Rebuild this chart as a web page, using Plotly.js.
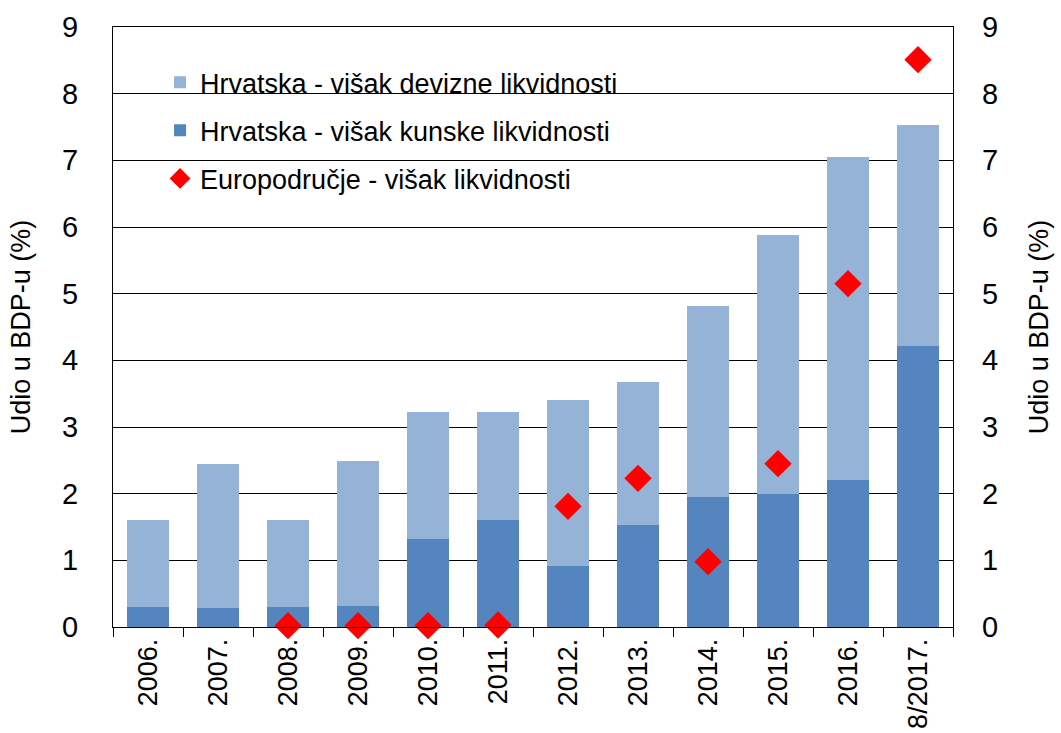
<!DOCTYPE html>
<html>
<head>
<meta charset="utf-8">
<script src="https://cdn.plot.ly/plotly-3.0.1.min.js"></script>
<style>html,body{margin:0;padding:0;background:#fff;}#chart{width:1061px;height:733px;}</style>
</head>
<body>
<div id="chart"></div>
<script>
const categories = ["2006.", "2007.", "2008.", "2009.", "2010.", "2011.", "2012.", "2013.", "2014.", "2015.", "2016.", "8/2017."];
const kunskeLikvidnost = [0.30, 0.28, 0.30, 0.32, 1.32, 1.61, 0.92, 1.53, 1.95, 2.00, 2.20, 4.22];
const ukupnoHrvatska = [1.61, 2.45, 1.61, 2.49, 3.22, 3.22, 3.41, 3.68, 4.82, 5.88, 7.05, 7.53];
const devizneLikvidnost = ukupnoHrvatska.map((t, i) => +(t - kunskeLikvidnost[i]).toFixed(2));
const europodrucje = [null, null, 0.02, 0.02, 0.02, 0.03, 1.81, 2.23, 0.98, 2.45, 5.15, 8.51];

const FAM = "Liberation Sans, Arial, sans-serif";
const xFont = {family: FAM, size: 27, color: "#000"};
const yFont = {family: FAM, size: 29, color: "#000"};
const titleFont = {family: FAM, size: 27, color: "#000"};

const traces = [
  {type: "bar", name: "Hrvatska - višak kunske likvidnosti", x: categories, y: kunskeLikvidnost,
   marker: {color: "#5585BE"}, legendrank: 2, legendgroup: "b", hoverinfo: "y"},
  {type: "bar", name: "Hrvatska - višak devizne likvidnosti", x: categories, y: devizneLikvidnost,
   marker: {color: "#95B3D7"}, legendrank: 1, legendgroup: "a", hoverinfo: "y"},
  {type: "scatter", mode: "markers", name: "Europodručje - višak likvidnosti", x: categories, y: europodrucje,
   yaxis: "y2", marker: {symbol: "diamond", color: "#FF0000", size: 21}, cliponaxis: false,
   legendrank: 3, legendgroup: "c"}
];

const layout = {
  width: 1061, height: 733,
  margin: {l: 113, r: 108, t: 27, b: 106},
  paper_bgcolor: "#fff", plot_bgcolor: "#fff",
  barmode: "stack", bargap: 0.41,
  font: xFont,
  showlegend: true,
  legend: {x: 0.056, xanchor: "left", y: 0.948, yanchor: "top", bgcolor: "rgba(0,0,0,0)",
           font: {family: FAM, size: 27, color: "#000"},
           traceorder: "grouped", tracegroupgap: 10},
  xaxis: {type: "category", range: [-0.5, categories.length - 0.5], tickangle: -90, tickfont: xFont,
          showline: true, linecolor: "#000", linewidth: 1,
          mirror: true, ticks: "outside", tickson: "boundaries", ticklen: 9, tickcolor: "#000", showgrid: false,
          zeroline: false, automargin: false},
  yaxis: {range: [0, 9], dtick: 1, tickfont: yFont, showline: true, linecolor: "#000", linewidth: 1,
          mirror: true, showgrid: true, gridcolor: "#000", gridwidth: 1, zeroline: false, ticks: "",
          ticklabelstandoff: 28, automargin: false,
          title: {text: "Udio u BDP-u (%)", font: titleFont, standoff: 23}},
  yaxis2: {range: [0, 9], dtick: 1, overlaying: "y", side: "right", tickfont: yFont, showgrid: false,
           zeroline: false, showline: false, ticks: "", ticklabelstandoff: 28, automargin: false,
           title: {text: "Udio u BDP-u (%)", font: titleFont, standoff: 31}}
};

Plotly.newPlot("chart", traces, layout, {displayModeBar: false, staticPlot: true});
</script>
</body>
</html>
